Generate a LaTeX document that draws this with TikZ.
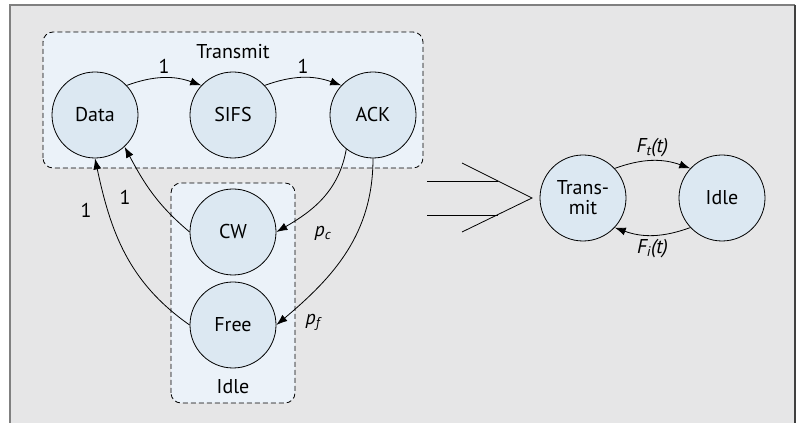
\documentclass[tikz,border=0pt]{standalone}
\usepackage{fontspec}
\setmainfont{PT Sans}
\usetikzlibrary{arrows.meta}
\definecolor{bggray}{HTML}{E6E6E7}
\definecolor{boxblue}{HTML}{EBF2F9}
\definecolor{nodeblue}{HTML}{DCE8F2}
\begin{document}
\begin{tikzpicture}[x=1pt, y=1pt, font=\fontsize{20}{22}\selectfont,
		st/.style = {draw, circle, fill=nodeblue, minimum size=86pt, inner sep=0pt, line width=0.8pt},
		grp/.style = {draw, dashed, dash pattern=on 5pt off 3pt, rounded corners=10pt, fill=boxblue, line width=0.8pt},
		tr/.style = {-{Latex[length=11pt,width=8pt]}, line width=0.8pt}]
				\useasboundingbox (0,0) rectangle (798,423);
				\fill[bggray] (10,0) rectangle (795,418);
				\draw[gray, line width=1.2pt] (10,0) -- (10,418) -- (795,418);
				\draw[black!75, line width=1.6pt] (795,418) -- (795,0);
				
				\draw[grp] (43,255) rectangle (423,391);
				\draw[grp] (171,20) rectangle (295,240);
				\node (tlab) at (233,371) {Transmit};
				\node (ilab) at (233,36) {Idle};
				
				\node[st] (data) at (95,308) {Data};
				\node[st] (sifs) at (233,308) {SIFS};
				\node[st] (ack) at (373,308) {ACK};
				\node[st] (cw) at (233,191) {CW};
				\node[st] (free) at (233,98) {Free};
				
				\draw[tr] (data.43) to[bend left=20] node[above=1pt] {1} (sifs.137);
				\draw[tr] (sifs.43) to[bend left=20] node[above=1pt] {1} (ack.137);
				\draw[tr] (cw.west) to[out=140, in=-62] (data.-47);
				\draw[tr] (free.west) to[out=145, in=-78] (data.-90);
				\draw[tr] (ack.-128) to[out=-100, in=30] (cw.east);
				\draw[tr] (ack.-90) to[out=-90, in=40] (free.east);
				\node (l1) at (125,226) {1};
				\node (l2) at (86,213) {1};
				\node (pc) at (323,190) {\textit{p\textsubscript{c}}};
				\node (pf) at (313,101) {\textit{p\textsubscript{f}}};
				
				% the big implication arrow
				\coordinate (a1) at (462,260);
				\coordinate (a2) at (532,225);
				\coordinate (a3) at (462,191);
				\draw[line width=0.8pt] (a1) -- (a2) -- (a3);
				\draw[line width=0.8pt] (427,242) -- (498,242);
				\draw[line width=0.8pt] (427,208) -- (498,208);
				
				\node[st, align=center, font=\fontsize{20}{20}\selectfont] (tx) at (583,225) {Trans-\\mit};
				\node[st] (idle) at (722,225) {Idle};
				\draw[tr] (tx.43) to[bend left=20] node[above] {\textit{F\textsubscript{t}(t)}} (idle.137);
				\draw[tr] (idle.-137) to[bend left=20] node[below] {\textit{F\textsubscript{i}(t)}} (tx.-43);
			\end{tikzpicture}
\end{document}
